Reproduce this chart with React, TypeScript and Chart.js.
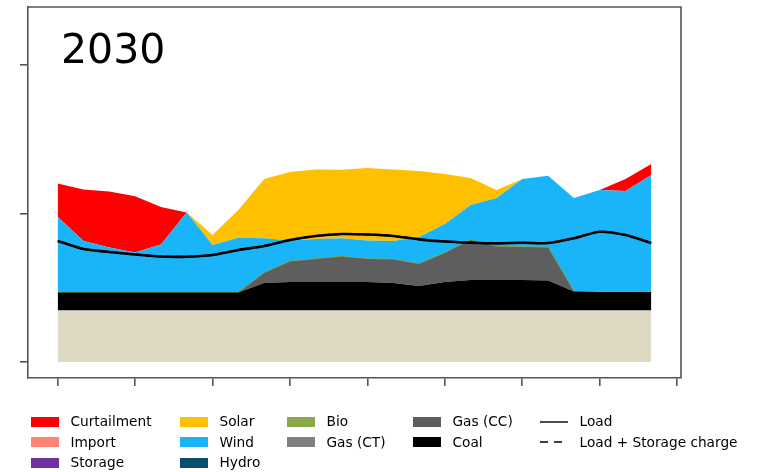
import React, { useEffect, useRef } from "react";
import { Chart, registerables } from "chart.js";
Chart.register(...registerables);

const hours = [0, 1, 2, 3, 4, 5, 6, 7, 8, 9, 10, 11, 12, 13, 14, 15, 16, 17, 18, 19, 20, 21, 22, 23];
const xTicks = [0, 3, 6, 9, 12, 15, 18, 21, 24];
const yTicks = [0, 10, 20];
const title = "2030";

const nuclear = [3.47, 3.47, 3.47, 3.47, 3.47, 3.47, 3.47, 3.47, 3.47, 3.47, 3.47, 3.47, 3.47, 3.47, 3.47, 3.47, 3.47, 3.47, 3.47, 3.47, 3.47, 3.47, 3.47, 3.47];
const coal = [1.21, 1.21, 1.21, 1.21, 1.21, 1.21, 1.21, 1.21, 1.85, 1.92, 1.92, 1.92, 1.92, 1.85, 1.65, 1.92, 2.05, 2.05, 2.05, 2.02, 1.28, 1.24, 1.24, 1.24];
const gasCC = [0, 0, 0, 0, 0, 0, 0, 0, 0.67, 1.38, 1.55, 1.72, 1.55, 1.58, 1.48, 1.95, 2.69, 2.26, 2.22, 2.22, 0, 0, 0, 0];
const gasCT = [0, 0, 0, 0, 0, 0, 0, 0, 0, 0, 0, 0, 0, 0, 0, 0, 0, 0, 0, 0, 0, 0, 0, 0];
const bio = [0, 0, 0, 0, 0, 0, 0, 0, 0, 0, 0, 0, 0, 0, 0, 0, 0, 0, 0, 0, 0, 0, 0, 0];
const hydro = [0, 0, 0, 0, 0, 0, 0, 0, 0, 0, 0, 0, 0, 0, 0, 0, 0, 0, 0, 0, 0, 0, 0, 0];
const wind = [5.10, 3.47, 3.03, 2.69, 3.23, 5.39, 3.20, 3.69, 2.34, 1.41, 1.35, 1.23, 1.25, 1.25, 1.82, 1.95, 2.36, 3.27, 4.58, 4.84, 6.30, 6.87, 6.80, 7.88];
const solar = [0, 0, 0, 0, 0, 0, 0.67, 1.87, 3.99, 4.61, 4.68, 4.60, 4.88, 4.82, 4.44, 3.37, 1.82, 0.54, 0, 0, 0, 0, 0, 0];
const storage = [0, 0, 0, 0, 0, 0, 0, 0, 0, 0, 0, 0, 0, 0, 0, 0, 0, 0, 0, 0, 0, 0, 0, 0];
const importPower = [0, 0, 0, 0, 0, 0, 0, 0, 0, 0, 0, 0, 0, 0, 0, 0, 0, 0, 0, 0, 0, 0, 0, 0];
const curtailment = [2.24, 3.47, 3.77, 3.80, 2.53, 0, 0, 0, 0, 0, 0, 0, 0, 0, 0, 0, 0, 0, 0, 0, 0, 0, 0.81, 0.74];
const load = [8.15, 7.61, 7.41, 7.24, 7.10, 7.09, 7.21, 7.54, 7.81, 8.22, 8.49, 8.62, 8.59, 8.49, 8.26, 8.11, 8.03, 7.99, 8.03, 8.01, 8.33, 8.77, 8.55, 8.01];
const storageCharge = [0, 0, 0, 0, 0, 0, 0, 0, 0, 0, 0, 0, 0, 0, 0, 0, 0, 0, 0, 0, 0, 0, 0, 0];

const COLORS = {
  nuclear: "#DDD9C3",
  coal: "#000000",
  gasCC: "#5E5E5E",
  gasCT: "#808080",
  bio: "#8AA84A",
  hydro: "#0A4F6E",
  wind: "#1AB4F9",
  solar: "#FFC000",
  storage: "#7030A0",
  import: "#FF8272",
  curtailment: "#FF0000",
};

const layers = [
  { label: "Nuclear", data: nuclear, color: COLORS.nuclear, bw: 0 },
  { label: "Coal", data: coal, color: COLORS.coal, bw: 0 },
  { label: "Gas (CC)", data: gasCC, color: COLORS.gasCC, bw: 0 },
  { label: "Gas (CT)", data: gasCT, color: COLORS.gasCT, bw: 0 },
  { label: "Bio", data: bio, color: COLORS.bio, bw: 1.4 },
  { label: "Hydro", data: hydro, color: COLORS.hydro, bw: 0 },
  { label: "Wind", data: wind, color: COLORS.wind, bw: 0 },
  { label: "Solar", data: solar, color: COLORS.solar, bw: 0 },
  { label: "Storage", data: storage, color: COLORS.storage, bw: 0 },
  { label: "Import", data: importPower, color: COLORS.import, bw: 0 },
  { label: "Curtailment", data: curtailment, color: COLORS.curtailment, bw: 0 },
];

type LegendItem = { label: string; kind: "patch" | "line" | "dash"; color: string };
const legendCols: LegendItem[][] = [
  [
    { label: "Curtailment", kind: "patch", color: COLORS.curtailment },
    { label: "Import", kind: "patch", color: COLORS.import },
    { label: "Storage", kind: "patch", color: COLORS.storage },
  ],
  [
    { label: "Solar", kind: "patch", color: COLORS.solar },
    { label: "Wind", kind: "patch", color: COLORS.wind },
    { label: "Hydro", kind: "patch", color: COLORS.hydro },
  ],
  [
    { label: "Bio", kind: "patch", color: COLORS.bio },
    { label: "Gas (CT)", kind: "patch", color: COLORS.gasCT },
  ],
  [
    { label: "Gas (CC)", kind: "patch", color: COLORS.gasCC },
    { label: "Coal", kind: "patch", color: COLORS.coal },
  ],
  [
    { label: "Load", kind: "line", color: "#000" },
    { label: "Load + Storage charge", kind: "dash", color: "#000" },
  ],
];
const colX = [31, 180, 287, 413, 540];
const rowY = [421.5, 442, 462.5];

const AXIS = "#555555";

export default function App() {
  const ref = useRef<HTMLCanvasElement | null>(null);

  useEffect(() => {
    if (!ref.current) return;
    const areaSets = layers.map((l, i) => ({
      type: "line" as const,
      label: l.label,
      data: l.data.map((v, j) => ({ x: hours[j], y: v })),
      backgroundColor: l.color,
      borderColor: l.color,
      borderWidth: l.bw,
      pointRadius: 0,
      fill: i === 0 ? "origin" : "-1",
      stack: "gen",
      tension: 0,
      order: 2,
    }));
    const loadSet = {
      type: "line" as const,
      label: "Load",
      data: load.map((v, j) => ({ x: hours[j], y: v })),
      borderColor: "#000",
      backgroundColor: "#000",
      borderWidth: 2.6,
      pointRadius: 0,
      fill: false,
      stack: "load",
      tension: 0.25,
      order: 0,
    };
    const loadStorSet = {
      type: "line" as const,
      label: "Load + Storage charge",
      data: load.map((v, j) => ({ x: hours[j], y: v + storageCharge[j] })),
      borderColor: "#000",
      backgroundColor: "#000",
      borderWidth: 2,
      borderDash: [6, 4],
      pointRadius: 0,
      fill: false,
      stack: "loadStorage",
      tension: 0.25,
      order: 1,
    };

    const boxPlugin = {
      id: "box",
      afterDraw(chart: any) {
        const { ctx, chartArea } = chart;
        const { left, right, top, bottom } = chartArea;
        ctx.save();
        ctx.strokeStyle = AXIS;
        ctx.lineWidth = 1.6;
        ctx.beginPath();
        ctx.moveTo(left, top);
        ctx.lineTo(right, top);
        ctx.lineTo(right, bottom);
        ctx.stroke();
        ctx.fillStyle = "#000";
        ctx.font = '41px "DejaVu Sans"';
        ctx.textBaseline = "alphabetic";
        ctx.textAlign = "left";
        ctx.fillText(title, 61, 63);
        ctx.restore();
      },
    };

    const chart = new Chart(ref.current, {
      type: "line",
      data: { datasets: [...areaSets, loadSet, loadStorSet] as any },
      options: {
        responsive: false,
        animation: false,
        events: [],
        layout: { padding: { left: 0, top: 7, right: 79, bottom: 0 } },
        plugins: { legend: { display: false }, tooltip: { enabled: false } },
        scales: {
          x: {
            type: "linear",
            min: -1.15,
            max: 24.15,
            afterBuildTicks: (s: any) => {
              s.ticks = xTicks.map((v) => ({ value: v }));
            },
            afterFit: (s: any) => {
              s.height = 94;
            },
            ticks: { display: false },
            grid: { display: true, drawOnChartArea: false, drawTicks: true, tickLength: 8, color: AXIS, lineWidth: 1.6 },
            border: { display: true, color: AXIS, width: 1.6 },
          },
          y: {
            type: "linear",
            stacked: true,
            min: -1.077,
            max: 23.906,
            afterBuildTicks: (s: any) => {
              s.ticks = yTicks.map((v) => ({ value: v }));
            },
            afterFit: (s: any) => {
              s.width = 28;
            },
            ticks: { display: false },
            grid: { display: true, drawOnChartArea: false, drawTicks: true, tickLength: 8, color: AXIS, lineWidth: 1.6 },
            border: { display: true, color: AXIS, width: 1.6 },
          },
        },
      },
      plugins: [boxPlugin],
    } as any);
    return () => chart.destroy();
  }, []);

  const font = '"DejaVu Sans", sans-serif';
  return (
    <div style={{ position: "absolute", left: 0, top: 0, width: 760, height: 472, background: "#fff", overflow: "hidden" }}>
      <canvas ref={ref} width={760} height={472} style={{ position: "absolute", left: 0, top: 0, width: 760, height: 472 }} />
      {legendCols.map((col, ci) =>
        col.map((it, ri) => {
          const x = colX[ci];
          const cy = rowY[ri];
          return (
            <div key={ci + "-" + ri}>
              {it.kind === "patch" ? (
                <div style={{ position: "absolute", left: x, top: cy - 5, width: 28, height: 10, background: it.color }} />
              ) : (
                <svg style={{ position: "absolute", left: x, top: cy - 5 }} width={28} height={10}>
                  <line
                    x1={0}
                    y1={5}
                    x2={28}
                    y2={5}
                    stroke={it.color}
                    strokeWidth={1.4}
                    strokeDasharray={it.kind === "dash" ? "8 6" : undefined}
                  />
                </svg>
              )}
              <div
                style={{
                  position: "absolute",
                  left: x + 39.5,
                  top: cy - 10.5,
                  height: 20,
                  lineHeight: "20px",
                  fontFamily: font,
                  fontSize: 13.7,
                  color: "#000",
                  whiteSpace: "nowrap",
                }}
              >
                {it.label}
              </div>
            </div>
          );
        })
      )}
    </div>
  );
}
